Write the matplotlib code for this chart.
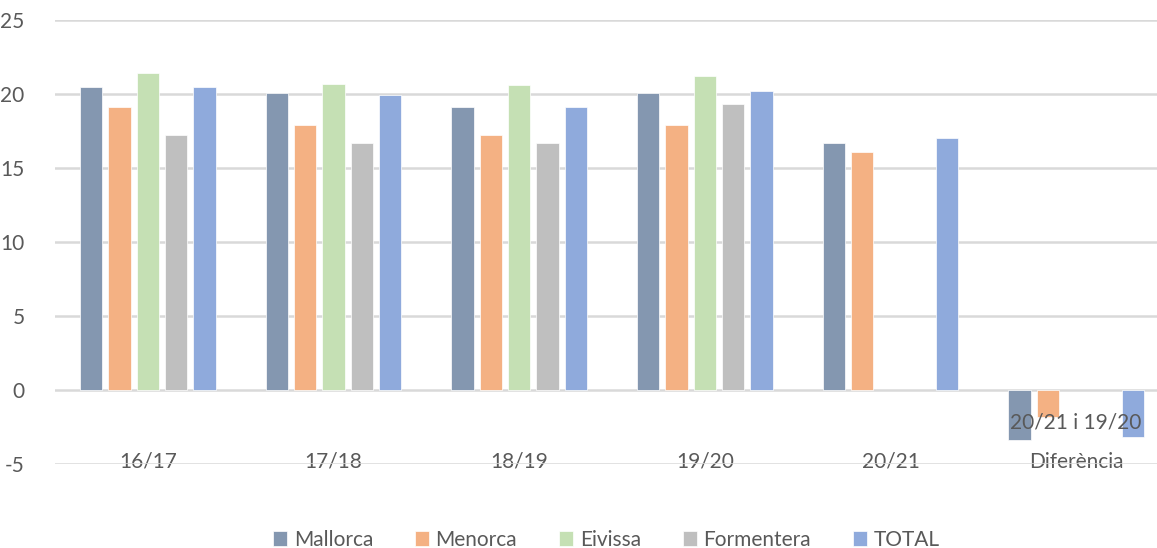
import numpy as np
import matplotlib
matplotlib.use("Agg")
import matplotlib.pyplot as plt

plt.rcParams['font.family'] = ['Lato', 'DejaVu Sans']

categories = ["16/17", "17/18", "18/19", "19/20", "20/21", "Diferència"]
series = ["Mallorca", "Menorca", "Eivissa", "Formentera", "TOTAL"]
mallorca = [20.5, 20.1, 19.1, 20.1, 16.7, -3.4]
menorca = [19.1, 17.9, 17.2, 17.9, 16.1, -1.8]
eivissa = [21.4, 20.7, 20.6, 21.2, np.nan, np.nan]
formentera = [17.2, 16.7, 16.7, 19.3, np.nan, np.nan]
total = [20.5, 19.9, 19.1, 20.2, 17.0, -3.2]
colors = ["#8497B0", "#F4B183", "#C5E0B4", "#BFBFBF", "#8FAADC"]
yticks = [-5, 0, 5, 10, 15, 20, 25]
text_color = "#595959"


def figure():
    fig = plt.figure(figsize=(11.57, 5.48), dpi=100)
    ax = fig.add_axes([55 / 1157, 84 / 548, 1114 / 1157, 444 / 548])

    x = np.arange(len(categories))
    step = 0.1525
    width = 0.119
    for i, (name, vals) in enumerate(zip(series, [mallorca, menorca, eivissa, formentera, total])):
        ax.bar(x + (i - 2) * step, vals, width, color=colors[i], label=name,
               edgecolor="white", linewidth=0.5, zorder=3)

    ax.set_xlim(-0.5, len(categories) - 0.5)
    ax.set_ylim(-5, 25)
    ax.set_yticks(yticks)
    ax.set_yticklabels([str(t) for t in yticks])
    ax.yaxis.grid(True, color="#D9D9D9", linewidth=1.8, zorder=0)
    ax.set_axisbelow(True)
    for s in ax.spines.values():
        s.set_visible(False)
    ax.set_xticks(x)
    ax.set_xticklabels(categories)
    ax.tick_params(axis="x", length=0, pad=-9, labelsize=15, labelcolor=text_color)
    ax.tick_params(axis="y", length=0, pad=22, labelsize=15, labelcolor=text_color)

    ax.text(x[-1], -2.2, "20/21 i 19/20", ha="center", va="center",
            fontsize=15, color=text_color, zorder=5)

    fig.legend(loc="lower center", bbox_to_anchor=(0.524, -0.038), ncol=5,
               frameon=False, fontsize=15, labelcolor=text_color,
               handlelength=0.7, handleheight=0.7, handletextpad=0.3,
               columnspacing=2.0)

    fig.savefig("out.png", dpi=100)


if __name__ == "__main__":
    figure()
